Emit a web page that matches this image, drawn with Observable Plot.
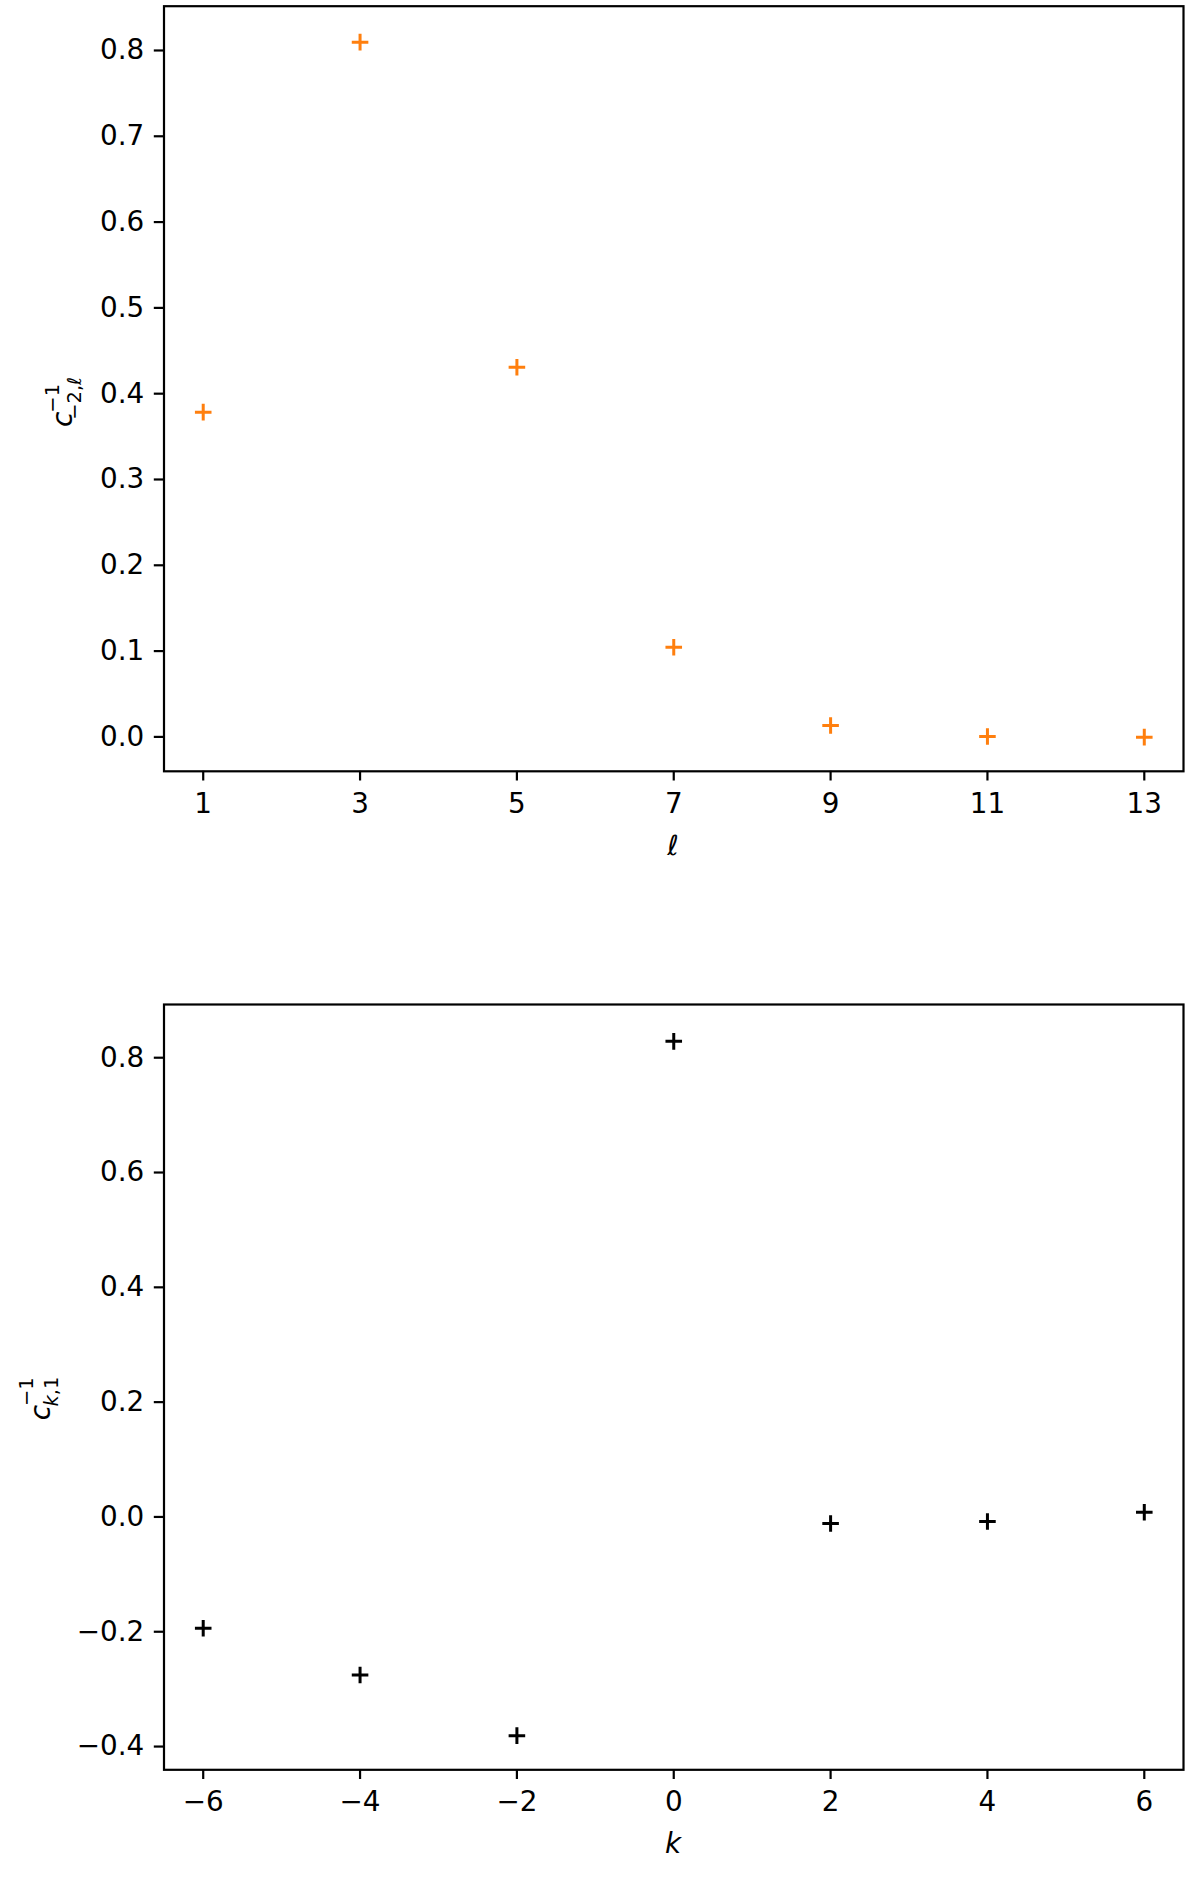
<!DOCTYPE html>
<html><head><meta charset="utf-8">
<script src="https://cdn.jsdelivr.net/npm/d3@7"></script>
<script src="https://cdn.jsdelivr.net/npm/@observablehq/plot@0.6"></script>
<style>body{margin:0;background:#fff} svg{display:block}</style>
</head><body><div id="chart"></div>
<script>
// ---- data ----
const ell = [1, 3, 5, 7, 9, 11, 13];
const cEll = [0.3785, 0.8097, 0.4309, 0.1045, 0.0133, 0.0005, -0.0003];
const kVals = [-6, -4, -2, 0, 2, 4, 6];
const cK = [-0.194, -0.2753, -0.381, 0.8285, -0.0115, -0.008, 0.0082];
const topXTicks = [1, 3, 5, 7, 9, 11, 13];
const topYTicks = [0, 0.1, 0.2, 0.3, 0.4, 0.5, 0.6, 0.7, 0.8];
const botXTicks = [-6, -4, -2, 0, 2, 4, 6];
const botYTicks = [-0.4, -0.2, 0, 0.2, 0.4, 0.6, 0.8];

const topData = ell.map((x, i) => ({x, y: cEll[i]}));
const botData = kVals.map((x, i) => ({x, y: cK[i]}));

const FONT = 27.8;
const common = {
  width: 1200,
  marginLeft: 163.5,
  marginRight: 17,
  style: {fontFamily: "DejaVu Sans", fontSize: FONT + "px", color: "black", background: "white", overflow: "visible"}
};

function axes(xTicks, yTicks) {
  return [
    Plot.axisX({ticks: xTicks, tickFormat: d3.format("d"), tickSize: 9.7, tickPadding: 12, strokeWidth: 2.2, fontSize: FONT, label: null}),
    Plot.axisY({ticks: yTicks, tickFormat: d3.format(".1f"), tickSize: 9.7, tickPadding: 10, strokeWidth: 2.2, fontSize: FONT, label: null}),
    Plot.frame({stroke: "black", strokeWidth: 2.2})
  ];
}

const topChart = Plot.plot({
  ...common,
  height: 880,
  marginTop: 5.7,
  marginBottom: 880 - 770.8,
  x: {domain: [0.5, 13.5]},
  y: {domain: [-0.0401, 0.8516]},
  marks: [
    ...axes(topXTicks, topYTicks),
    Plot.dot(topData, {x: "x", y: "y", symbol: "plus", r: 5.4, stroke: "#ff7f0e", strokeWidth: 3})
  ]
});

const botChart = Plot.plot({
  ...common,
  height: 999,
  marginTop: 1004 - 880,
  marginBottom: 999 - (1769.3 - 880),
  x: {domain: [-6.5, 6.5]},
  y: {domain: [-0.4405, 0.8927]},
  marks: [
    ...axes(botXTicks, botYTicks),
    Plot.dot(botData, {x: "x", y: "y", symbol: "plus", r: 5.4, stroke: "black", strokeWidth: 3})
  ]
});

const chart = document.getElementById("chart");
chart.appendChild(topChart);
chart.appendChild(botChart);

function xLabel(svg, txt, x, y) {
  d3.select(svg).append("text")
    .attr("x", x).attr("y", y)
    .attr("text-anchor", "middle")
    .attr("font-style", "italic")
    .attr("font-family", "DejaVu Sans")
    .attr("font-size", FONT)
    .attr("fill", "black")
    .text(txt);
}

function yLabel(svg, tx, ty, cStart, ssStart, supTxt, supDy, subTxt, subDy) {
  const g = d3.select(svg).append("g")
    .attr("transform", `translate(${tx},${ty}) rotate(-90)`)
    .attr("font-family", "DejaVu Sans")
    .attr("fill", "black");
  g.append("text").attr("x", cStart).attr("y", 0)
    .attr("font-size", FONT).attr("font-style", "italic").text("c");
  g.append("text").attr("x", ssStart).attr("y", supDy)
    .attr("font-size", FONT * 0.7).text(supTxt);
  const s = g.append("text").attr("x", ssStart).attr("y", subDy)
    .attr("font-size", FONT * 0.7);
  subTxt.forEach(([t, it]) => s.append("tspan").attr("font-style", it ? "italic" : "normal").text(t));
}

xLabel(topChart, "ℓ", 673, 855);
xLabel(botChart, "k", 673, 1853 - 880);

yLabel(topChart, 72, 388.3, -31, -10, "−1", -13, [["−2,", false], ["ℓ", true]], 9);
yLabel(botChart, 50, 1386.6 - 880, -26, -5, "−1", -17, [["k", true], [",1", false]], 8);
</script>
</body></html>
